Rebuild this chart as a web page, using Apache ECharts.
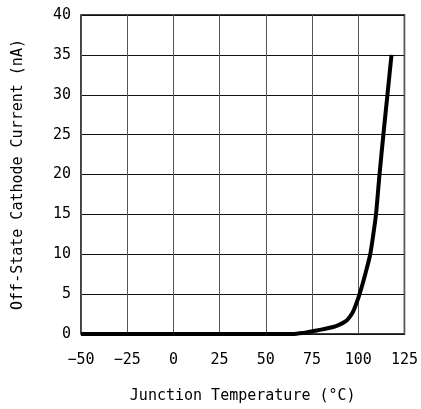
<!DOCTYPE html>
<html><head><meta charset="utf-8">
<script src="https://cdn.jsdelivr.net/npm/echarts@6/dist/echarts.min.js"></script>
<style>html,body{margin:0;padding:0;background:#fff}#c{width:421px;height:409px}</style>
</head><body><div id="c"></div>
<script>
const temperature = [-50, 0, 50, 64, 68, 72, 76, 80, 84, 88, 91, 94, 97, 100, 102.5, 104.7, 106.5, 108.1, 109.6, 111.5, 113.9, 118];
const current =     [0, 0, 0, 0, 0.08, 0.2, 0.38, 0.55, 0.75, 1.0, 1.3, 1.75, 2.7, 4.5, 6.4, 8.3, 10, 12.4, 15, 20, 25.7, 35];
const xTicks = [-50, -25, 0, 25, 50, 75, 100, 125];
const yTicks = [0, 5, 10, 15, 20, 25, 30, 35, 40];
const xTitle = 'Junction Temperature (°C)';
const yTitle = 'Off-State Cathode Current (nA)';

const font = 'DejaVu Sans Mono';
const chart = echarts.init(document.getElementById('c'));
chart.setOption({
  animation: false,
  grid: {left: 81, right: 16, top: 15, bottom: 73, show: true, borderColor: '#000', borderWidth: 1.5},
  xAxis: {
    type: 'value', min: -50, max: 125, interval: 25,
    name: xTitle, nameLocation: 'middle', nameGap: 55,
    nameTextStyle: {fontFamily: font, fontSize: 15, color: '#000'},
    axisLine: {show: false}, axisTick: {show: false},
    axisLabel: {fontFamily: font, fontSize: 15, color: '#000', margin: 19,
      formatter: v => String(v).replace('-', '\u2212')},
    splitLine: {show: true, lineStyle: {color: '#555', width: 1}}
  },
  yAxis: {
    type: 'value', min: 0, max: 40, interval: 5,
    name: yTitle, nameLocation: 'middle', nameGap: 55,
    nameTextStyle: {fontFamily: font, fontSize: 15, color: '#000'},
    axisLine: {show: false}, axisTick: {show: false},
    axisLabel: {fontFamily: font, fontSize: 15, color: '#000', margin: 10},
    splitLine: {show: true, lineStyle: {color: '#111', width: 1}}
  },
  series: [{
    type: 'line', data: temperature.map((t, i) => [t, current[i]]),
    symbol: 'none', smooth: 0.25,
    lineStyle: {color: '#000', width: 4}, clip: false
  }]
});
</script></body></html>
